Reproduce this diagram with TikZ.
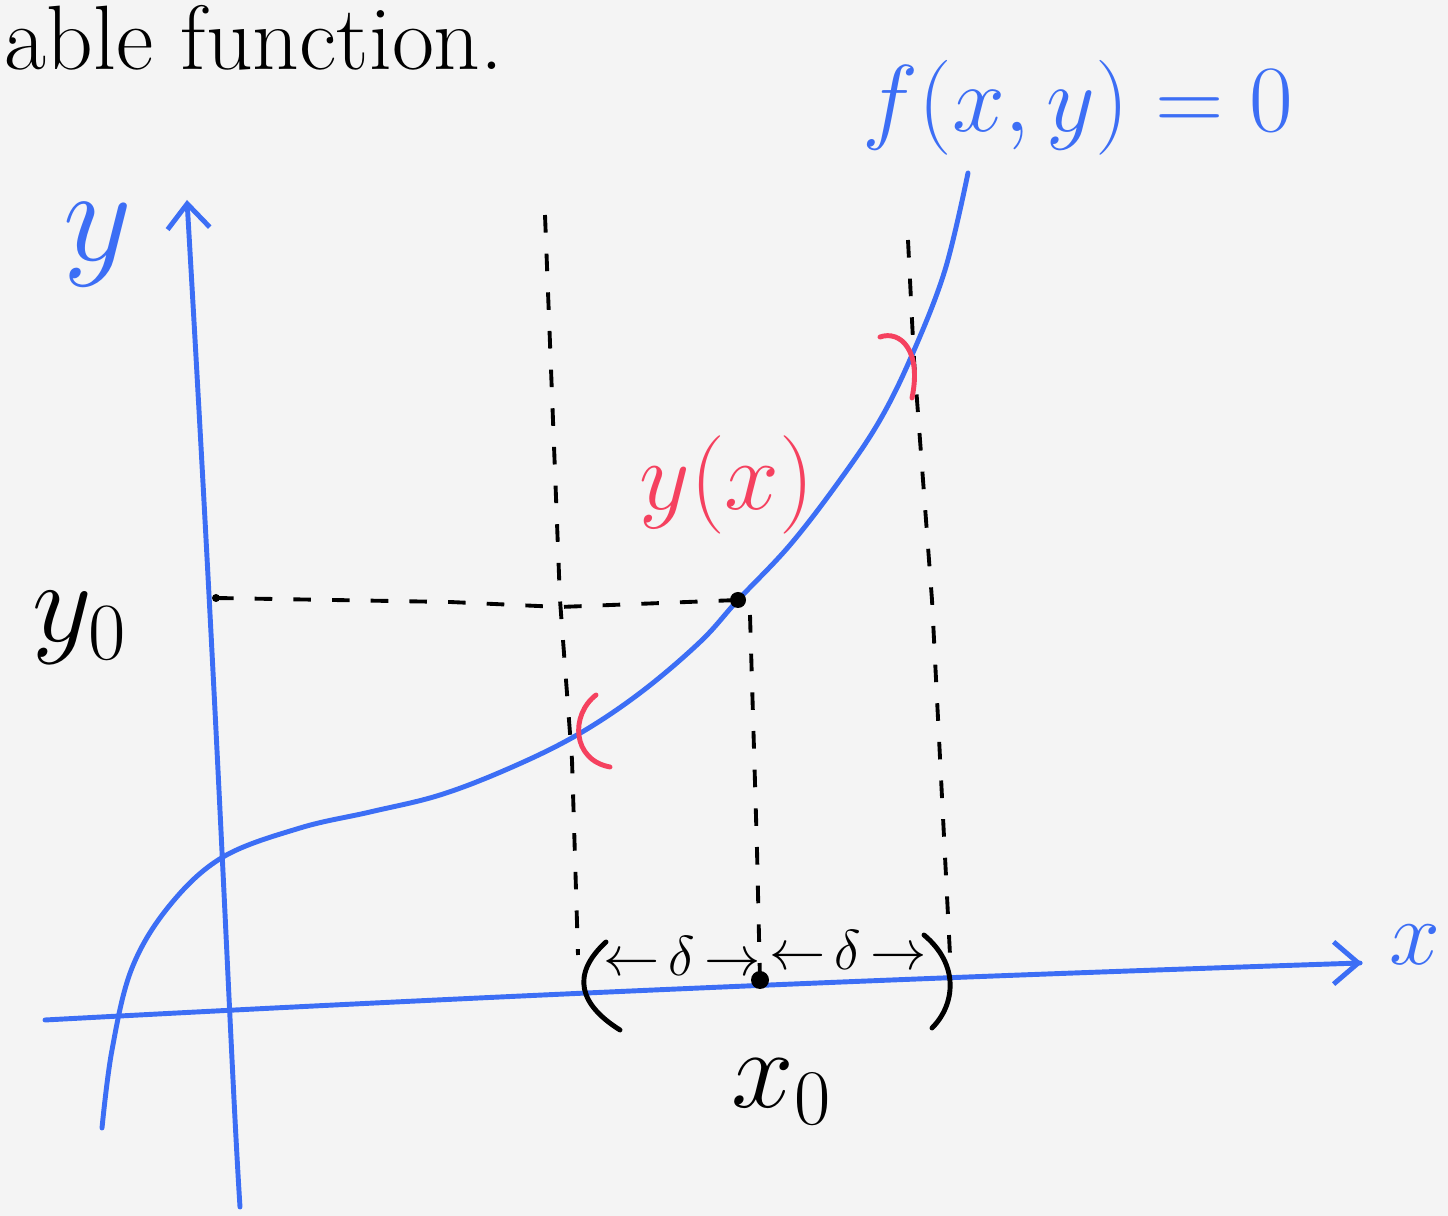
\RequirePackage{fix-cm}
\documentclass[tikz,border=0pt]{standalone}
\usepackage{amsmath,amssymb}
\usepackage{tikz}
\usetikzlibrary{arrows.meta, positioning}
\definecolor{penblue}{RGB}{60,110,245}
\definecolor{penred}{RGB}{245,65,95}
\definecolor{paper}{RGB}{244,244,244}

\begin{document}
\begin{tikzpicture}[x=0.01cm, y=-0.01cm, >={Straight Barb[length=7pt,width=12pt]},
    axis/.style={penblue, line width=1.4pt, line cap=round},
    graph/.style={penblue, line width=1.4pt, line cap=round},
    guide/.style={black, line width=1.1pt, dash pattern=on 5pt off 6pt},
    bracket/.style={line width=1.4pt, line cap=round},
    lbl/.style={inner sep=0pt, font=\fontsize{30}{32}\selectfont}
]
    \fill[paper] (0,0) rectangle (1448,1216);
    \useasboundingbox (0,0) rectangle (1448,1216);

    % Place nodes
    \node [lbl, anchor=base west, font=\fontsize{26}{28}\selectfont] (title) at (4,70) {able function.};
    \node [lbl, penblue, font=\fontsize{27}{29}\selectfont] (feq) at (1078,108) {$f(x,y)=0$};
    \node [lbl, penblue, font=\fontsize{38}{40}\selectfont] (ylab) at (98,245) {$y$};
    \node [lbl, penblue, font=\fontsize{26}{28}\selectfont] (xlab) at (1415,945) {$x$};
    \node [lbl, penred, font=\fontsize{28}{30}\selectfont] (yx) at (727,485) {$y(x)$};
    \node [lbl, font=\fontsize{33}{35}\selectfont] (y0) at (80,628) {$y_0$};
    \node [lbl, font=\fontsize{32}{34}\selectfont] (x0) at (782,1092) {$x_0$};
    \node [lbl, font=\fontsize{16}{18}\selectfont] (dleft) at (682,956) {${\leftarrow}\,\delta\,{\rightarrow}$};
    \node [lbl, font=\fontsize{16}{18}\selectfont] (dright) at (848,950) {${\leftarrow}\,\delta\,{\rightarrow}$};

    \coordinate (xs) at (45,1020);
    \coordinate (xe) at (1360,963);
    \coordinate (ys) at (240,1207);
    \coordinate (ye) at (187,200);
    \coordinate (Y0) at (216,598);
    \coordinate (P0) at (738,600);
    \coordinate (X0) at (760,980);

    % Draw axes and curve
    \draw [axis] (xs) .. controls (600,990) and (1000,975) .. (xe);
    \draw [axis, ->] (xe) -- ++(2,0);
    \draw [axis, ->] (ys) .. controls (230,1050) and (222,800) .. (ye);
    \draw [graph] plot [smooth, tension=0.6] coordinates {(102,1128) (112,1050) (132,968)
        (170,905) (223,857) (300,828) (370,812) (440,795) (510,768) (577,735)
        (640,693) (700,642) (P0) (790,545) (840,480) (880,420) (912,355) (945,270) (968,173)};

    % Guides
    \draw [guide] (Y0) -- (450,602) -- (560,607) -- (P0);
    \draw [guide] (545,215) -- (560,600) -- (572,760) -- (578,955);
    \draw [guide] (908,240) -- (914,360) -- (932,600) -- (950,955);
    \draw [guide] (750,615) -- (757,850) -- (X0);
    \fill (Y0) circle (4);
    \fill (P0) circle (8);
    \fill (X0) circle (9);

    % Brackets
    \draw [bracket] (606,942) .. controls (570,975) and (580,1005) .. (620,1030);
    \draw [bracket] (924,935) .. controls (960,965) and (955,1005) .. (932,1028);
    \draw [bracket, penred] (596,695) .. controls (570,715) and (572,760) .. (610,767);
    \draw [bracket, penred] (880,337) .. controls (900,330) and (922,350) .. (912,398);
\end{tikzpicture}
\end{document}
